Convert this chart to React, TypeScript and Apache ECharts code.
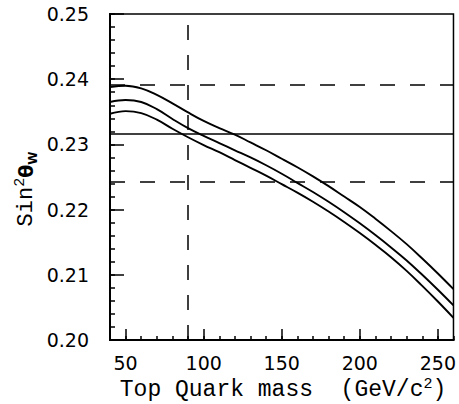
import React, { useEffect, useRef } from "react";
import * as echarts from "echarts";

const massX = [40, 50, 60, 70, 80, 90, 100, 110, 120, 130, 140, 150, 160, 170, 180, 190, 200, 210, 220, 230, 240, 250, 260];
const upperCurve = [0.2388, 0.2390, 0.2386, 0.2376, 0.2363, 0.2349, 0.2336, 0.2325, 0.2315, 0.2303, 0.2291, 0.2278, 0.2265, 0.2251, 0.2236, 0.2220, 0.2204, 0.2186, 0.2167, 0.2147, 0.2125, 0.2102, 0.2078];
const middleCurve = [0.2365, 0.2368, 0.2365, 0.2354, 0.2339, 0.2325, 0.2313, 0.2302, 0.2291, 0.2280, 0.2268, 0.2255, 0.2241, 0.2227, 0.2212, 0.2196, 0.2179, 0.2161, 0.2142, 0.2122, 0.2100, 0.2077, 0.2053];
const lowerCurve = [0.2347, 0.2351, 0.2348, 0.2338, 0.2324, 0.2311, 0.2299, 0.2288, 0.2276, 0.2264, 0.2252, 0.2239, 0.2226, 0.2212, 0.2197, 0.2181, 0.2164, 0.2146, 0.2127, 0.2106, 0.2083, 0.2059, 0.2034];

const xMajorTicks = [50, 100, 150, 200, 250];
const sinCentral = 0.2317;
const sinBand = [0.2392, 0.2242];
const zMassLine = 90;

const pairs = (ys: number[]) => massX.map((x, i) => [x, ys[i]]);

export default function App() {
  const ref = useRef<HTMLDivElement>(null);
  useEffect(() => {
    if (!ref.current) return;
    const chart = echarts.init(ref.current, null, { renderer: "svg" });
    const curveStyle = { color: "#000", width: 1.9 };
    const dashed = { color: "#000", width: 1.5, type: [15, 15] as any };
    const tickStyle = { color: "#000", width: 1.5 };
    chart.setOption({
      animation: false,
      backgroundColor: "#fff",
      grid: { left: 110, top: 14, right: 2, bottom: 64, show: true, borderColor: "#000", borderWidth: 1.5, backgroundColor: "transparent" },
      xAxis: [
        {
          type: "value",
          min: 40,
          max: 260,
          position: "bottom",
          axisLine: { show: true, onZero: false, lineStyle: { color: "#000", width: 2 } },
          axisTick: { show: true, inside: true, length: 11, customValues: xMajorTicks, lineStyle: tickStyle },
          axisLabel: { customValues: xMajorTicks, margin: 13, color: "#000", fontFamily: "DejaVu Sans", fontSize: 19 },
          splitLine: { show: false },
        },
        {
          type: "value",
          min: 40,
          max: 260,
          interval: 10,
          position: "bottom",
          axisLine: { show: true, onZero: false, lineStyle: { color: "#000", width: 2 } },
          axisTick: { show: true, inside: true, length: 4, lineStyle: tickStyle },
          axisLabel: { show: false },
          splitLine: { show: false },
        },
      ],
      yAxis: [
        {
          type: "value",
          min: 0.2,
          max: 0.25,
          interval: 0.01,
          position: "left",
          axisLine: { show: true, onZero: false, lineStyle: { color: "#000", width: 2 } },
          axisTick: { show: true, inside: true, length: 14, lineStyle: tickStyle },
          axisLabel: { margin: 21, color: "#000", fontFamily: "DejaVu Sans", fontSize: 19, formatter: (v: number) => v.toFixed(2) },
          splitLine: { show: false },
        },
        {
          type: "value",
          min: 0.2,
          max: 0.25,
          interval: 0.002,
          position: "left",
          axisLine: { show: true, onZero: false, lineStyle: { color: "#000", width: 2 } },
          axisTick: { show: true, inside: true, length: 5, lineStyle: tickStyle },
          axisLabel: { show: false },
          splitLine: { show: false },
        },
      ],
      graphic: [
        {
          type: "text",
          x: 283,
          y: 390,
          style: {
            text: "{a|Top Quark mass  (GeV/c}{s|2}{a|)}",
            align: "center",
            verticalAlign: "middle",
            rich: {
              a: { fontFamily: "Liberation Mono", fontSize: 23, color: "#000", lineHeight: 26 },
              s: { fontFamily: "Liberation Mono", fontSize: 15, color: "#000", verticalAlign: "top", lineHeight: 26 },
            },
          },
        },
        {
          type: "text",
          x: 26,
          y: 189,
          rotation: Math.PI / 2,
          style: {
            text: "{a|Sin}{s|2}{t|θ}{w|W}",
            align: "center",
            verticalAlign: "middle",
            rich: {
              a: { fontFamily: "Liberation Mono", fontSize: 22, color: "#000", lineHeight: 26 },
              s: { fontFamily: "Liberation Mono", fontSize: 15, color: "#000", verticalAlign: "top", lineHeight: 26 },
              t: { fontFamily: "DejaVu Sans", fontSize: 19, fontWeight: "bold", color: "#000", lineHeight: 26 },
              w: { fontFamily: "DejaVu Sans", fontSize: 12, fontWeight: "bold", color: "#000", verticalAlign: "bottom", lineHeight: 26 },
            },
          },
        },
      ],
      series: [
        { type: "line", data: pairs(upperCurve), smooth: 0.4, showSymbol: false, lineStyle: curveStyle, xAxisIndex: 0, yAxisIndex: 0 },
        { type: "line", data: pairs(middleCurve), smooth: 0.4, showSymbol: false, lineStyle: curveStyle, xAxisIndex: 0, yAxisIndex: 0 },
        {
          type: "line",
          data: pairs(lowerCurve),
          smooth: 0.4,
          showSymbol: false,
          lineStyle: curveStyle,
          xAxisIndex: 0,
          yAxisIndex: 0,
          markLine: {
            silent: true,
            symbol: "none",
            precision: 5,
            label: { show: false },
            data: [
              { yAxis: sinCentral, lineStyle: { color: "#000", width: 1.5, type: "solid" } },
              { yAxis: sinBand[0], lineStyle: dashed },
              { yAxis: sinBand[1], lineStyle: dashed },
              { xAxis: zMassLine, lineStyle: dashed },
            ],
          },
        },
      ],
    });
    return () => chart.dispose();
  }, []);
  return <div ref={ref} style={{ position: "absolute", left: 0, top: 0, width: 459, height: 404 }} />;
}
